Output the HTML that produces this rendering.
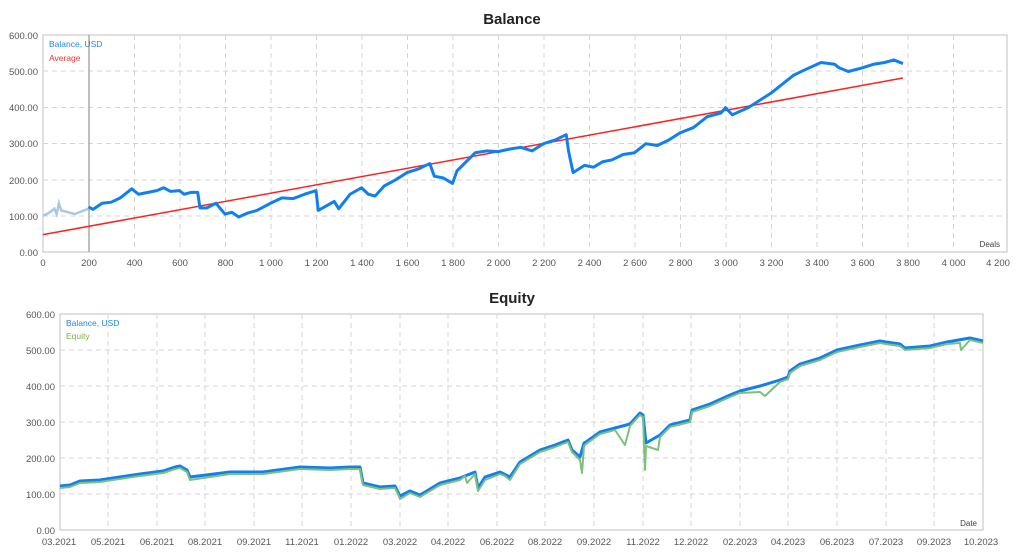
<!DOCTYPE html>
<html><head><meta charset="utf-8"><style>
body{margin:0;background:#fff;width:1024px;height:555px;overflow:hidden;font-family:"Liberation Sans",sans-serif}
svg text{font-family:"Liberation Sans",sans-serif}
</style></head><body>
<svg width="1024" height="555" xmlns="http://www.w3.org/2000/svg">
<!-- Balance -->
<text x="512" y="24" font-size="15" font-weight="bold" text-anchor="middle" fill="#222">Balance</text>
<rect x="43" y="35" width="964" height="217" fill="#fff" stroke="#c0c0c0"/>
<g stroke="#d4d4d4" stroke-dasharray="5,4" stroke-width="1">
<line x1="43" x2="1007" y1="71" y2="71"/><line x1="43" x2="1007" y1="107.5" y2="107.5"/><line x1="43" x2="1007" y1="143.5" y2="143.5"/><line x1="43" x2="1007" y1="180" y2="180"/><line x1="43" x2="1007" y1="216" y2="216"/>
<line x1="134.5" x2="134.5" y1="35" y2="252"/><line x1="180" x2="180" y1="35" y2="252"/><line x1="225.5" x2="225.5" y1="35" y2="252"/><line x1="271" x2="271" y1="35" y2="252"/><line x1="316.5" x2="316.5" y1="35" y2="252"/><line x1="362" x2="362" y1="35" y2="252"/><line x1="407.5" x2="407.5" y1="35" y2="252"/><line x1="453" x2="453" y1="35" y2="252"/><line x1="498.5" x2="498.5" y1="35" y2="252"/><line x1="544" x2="544" y1="35" y2="252"/><line x1="589.5" x2="589.5" y1="35" y2="252"/><line x1="635" x2="635" y1="35" y2="252"/><line x1="680.5" x2="680.5" y1="35" y2="252"/><line x1="726" x2="726" y1="35" y2="252"/><line x1="771.5" x2="771.5" y1="35" y2="252"/><line x1="817" x2="817" y1="35" y2="252"/><line x1="862.5" x2="862.5" y1="35" y2="252"/><line x1="908" x2="908" y1="35" y2="252"/><line x1="953.5" x2="953.5" y1="35" y2="252"/>
</g>
<line x1="89" x2="89" y1="35" y2="252" stroke="#aaa" stroke-width="1.5"/>
<g font-size="9.5" fill="#555" text-anchor="end">
<text x="38" y="39">600.00</text><text x="38" y="75">500.00</text><text x="38" y="111">400.00</text><text x="38" y="147">300.00</text><text x="38" y="184">200.00</text><text x="38" y="220">100.00</text><text x="38" y="256">0.00</text>
</g>
<g font-size="9.5" fill="#555" text-anchor="middle">
<text x="43" y="266">0</text><text x="89" y="266">200</text><text x="134.5" y="266">400</text><text x="180" y="266">600</text><text x="225.5" y="266">800</text><text x="271" y="266">1 000</text><text x="316.5" y="266">1 200</text><text x="362" y="266">1 400</text><text x="407.5" y="266">1 600</text><text x="453" y="266">1 800</text><text x="498.5" y="266">2 000</text><text x="544" y="266">2 200</text><text x="589.5" y="266">2 400</text><text x="635" y="266">2 600</text><text x="680.5" y="266">2 800</text><text x="726" y="266">3 000</text><text x="771.5" y="266">3 200</text><text x="817" y="266">3 400</text><text x="862.5" y="266">3 600</text><text x="908" y="266">3 800</text><text x="953.5" y="266">4 000</text><text x="998" y="266">4 200</text>
</g>
<text x="1000" y="247" font-size="8" fill="#444" text-anchor="end">Deals</text>
<text x="49" y="47" font-size="8.5" fill="#1e88e5">Balance, USD</text>
<text x="49" y="61" font-size="8.5" fill="#e53935">Average</text>
<g transform="translate(43,252) scale(0.2275,-0.361)" fill="none">
<polyline vector-effect="non-scaling-stroke" stroke="#aac8e6" stroke-width="2.5" points="0,100 30,110 50,120 60,105 70,135 80,115 100,112 140,105 180,115 200,120"/>
<polyline vector-effect="non-scaling-stroke" stroke="#ff2020" stroke-width="1.5" points="0,48 3780,482"/>
<polyline vector-effect="non-scaling-stroke" stroke="#1080f0" stroke-width="3" stroke-linejoin="round" points="200,125 220,118 260,135 300,138 340,150 390,175 420,160 500,170 530,178 560,168 600,170 620,160 650,165 680,165 690,122 720,122 760,135 800,105 830,110 860,97 900,108 940,115 1000,135 1050,150 1100,148 1150,160 1200,170 1210,115 1280,140 1300,120 1350,160 1400,178 1430,160 1460,155 1500,183 1550,200 1600,220 1650,230 1700,245 1720,210 1760,205 1800,190 1820,225 1860,250 1900,275 1950,280 2000,278 2050,285 2100,290 2150,280 2200,300 2250,310 2300,325 2310,280 2330,220 2380,240 2420,235 2460,250 2500,255 2550,270 2600,275 2650,300 2700,295 2750,310 2800,330 2860,345 2920,375 2980,385 3000,400 3030,380 3100,400 3150,420 3200,440 3260,470 3300,490 3350,505 3420,525 3480,520 3500,510 3540,500 3600,510 3650,520 3700,525 3740,532 3780,522"/>
</g>
<!-- Equity -->
<text x="512" y="303" font-size="15" font-weight="bold" text-anchor="middle" fill="#222">Equity</text>
<rect x="60" y="314" width="923" height="216" fill="#fff" stroke="#c0c0c0"/>
<g stroke="#d4d4d4" stroke-dasharray="5,4" stroke-width="1">
<line x1="60" x2="983" y1="350" y2="350"/><line x1="60" x2="983" y1="386" y2="386"/><line x1="60" x2="983" y1="422" y2="422"/><line x1="60" x2="983" y1="458" y2="458"/><line x1="60" x2="983" y1="494" y2="494"/>
<line x1="108" x2="108" y1="314" y2="530"/><line x1="157" x2="157" y1="314" y2="530"/><line x1="205" x2="205" y1="314" y2="530"/><line x1="254" x2="254" y1="314" y2="530"/><line x1="302" x2="302" y1="314" y2="530"/><line x1="351" x2="351" y1="314" y2="530"/><line x1="400" x2="400" y1="314" y2="530"/><line x1="448" x2="448" y1="314" y2="530"/><line x1="497" x2="497" y1="314" y2="530"/><line x1="545" x2="545" y1="314" y2="530"/><line x1="594" x2="594" y1="314" y2="530"/><line x1="643" x2="643" y1="314" y2="530"/><line x1="691" x2="691" y1="314" y2="530"/><line x1="740" x2="740" y1="314" y2="530"/><line x1="788" x2="788" y1="314" y2="530"/><line x1="837" x2="837" y1="314" y2="530"/><line x1="886" x2="886" y1="314" y2="530"/><line x1="934" x2="934" y1="314" y2="530"/>
</g>
<g font-size="9.5" fill="#555" text-anchor="end">
<text x="55" y="318">600.00</text><text x="55" y="354">500.00</text><text x="55" y="390">400.00</text><text x="55" y="426">300.00</text><text x="55" y="462">200.00</text><text x="55" y="498">100.00</text><text x="55" y="534">0.00</text>
</g>
<g font-size="9.5" fill="#555" text-anchor="middle">
<text x="59" y="545">03.2021</text><text x="108" y="545">05.2021</text><text x="157" y="545">06.2021</text><text x="205" y="545">08.2021</text><text x="254" y="545">09.2021</text><text x="302" y="545">11.2021</text><text x="351" y="545">01.2022</text><text x="400" y="545">03.2022</text><text x="448" y="545">04.2022</text><text x="497" y="545">06.2022</text><text x="545" y="545">08.2022</text><text x="594" y="545">09.2022</text><text x="643" y="545">11.2022</text><text x="691" y="545">12.2022</text><text x="740" y="545">02.2023</text><text x="788" y="545">04.2023</text><text x="837" y="545">06.2023</text><text x="886" y="545">07.2023</text><text x="934" y="545">09.2023</text><text x="981" y="545">10.2023</text>
</g>
<text x="977" y="526" font-size="8" fill="#444" text-anchor="end">Date</text>
<text x="66" y="326" font-size="8.5" fill="#1e88e5">Balance, USD</text>
<text x="66" y="339" font-size="8.5" fill="#7cb342">Equity</text>
<polyline fill="none" stroke="#1080f0" stroke-width="3" stroke-linejoin="round" points="60,486 70,485 80,481 100,480 113,478 140,474 163,471 175,467 180,466 187,470 190,477 230,472 263,472 300,467 330,468 350,467 360,467 363,483 380,487 395,486 398,492 400,496 410,491 420,495 440,483 460,478 475,472 478,488 485,477 500,472 510,477 520,462 540,450 555,445 568,440 572,450 580,457 584,443 586,442 600,432 615,428 630,424 640,413 643,415 646,443 660,435 670,425 690,420 692,410 710,404 730,395 740,391 760,386 780,380 788,377 790,371 800,364 820,358 837,350 860,345 880,341 886,342 900,344 905,348 930,346 947,342 970,338 983,341"/>
<polyline fill="none" stroke="#7cc07a" stroke-width="2" stroke-linejoin="round" points="60,488 70,487 80,483 100,482 113,480 140,476 163,473 175,469 180,468 187,472 190,480 230,474 263,474 300,469 330,470 350,469 360,469 363,485 380,489 395,488 398,494 400,499 410,493 420,497 440,485 460,480 465,476 467,483 475,474 478,491 485,480 500,474 505,476 510,480 520,464 540,452 555,447 568,442 572,452 580,460 582,473 584,446 586,444 600,434 615,430 625,445 630,426 640,415 643,417 645,470 646,446 658,450 660,437 670,427 690,422 692,412 710,406 730,397 740,393 760,392 765,396 780,382 788,379 790,373 800,366 820,360 837,352 860,347 880,343 886,344 900,346 905,350 930,348 947,344 960,343 961,350 970,340 983,343"/>
</svg>
</body></html>
